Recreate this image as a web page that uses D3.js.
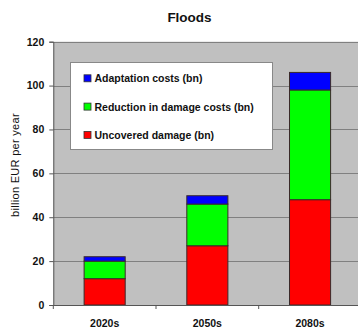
<!DOCTYPE html>
<html><head><meta charset="utf-8">
<script src="https://cdn.jsdelivr.net/npm/d3@7/dist/d3.min.js"></script>
<style>body{margin:0;background:#fff;} svg{display:block;} text{font-family:Arial,"Liberation Sans",sans-serif;}</style>
</head><body>
<script>
const categories = ["2020s", "2050s", "2080s"];
const uncovered = [12, 27, 48];
const reduction = [8, 19, 50];
const adaptation = [2, 3.8, 8];
const seriesNames = ["Uncovered damage (bn)", "Reduction in damage costs (bn)", "Adaptation costs (bn)"];
const seriesColors = ["#ff0000", "#00ff00", "#0000ff"];
const yTicks = [0, 20, 40, 60, 80, 100, 120];

(function () {
const W = 358, H = 327;
const svg = d3.select("body").append("svg").attr("width", W).attr("height", H);

const pL = 53.3, pR = 361.4, pT = 41.7, pB = 305;
const x = d3.scaleBand().domain(categories).range([pL, pR]).paddingInner(0.6).paddingOuter(0.3);
const xb = d3.scalePoint().domain(d3.range(categories.length + 1)).range([pL, pR]);
const y = d3.scaleLinear().domain([0, 120]).range([pB, pT]);

svg.append("rect").attr("x", pL).attr("y", pT).attr("width", pR - pL).attr("height", pB - pT).attr("fill", "#c0c0c0");

svg.append("g").selectAll("line").data(yTicks.filter(d => d > 0)).join("line")
  .attr("x1", pL).attr("x2", pR).attr("y1", d => Math.round(y(d)) + 0.5).attr("y2", d => Math.round(y(d)) + 0.5)
  .attr("stroke", "#808080").attr("stroke-width", 1);

const rows = categories.map((c, i) => ({cat: c, u: uncovered[i], r: reduction[i], a: adaptation[i]}));
const stack = d3.stack().keys(["u", "r", "a"])(rows);

svg.append("g").selectAll("g").data(stack).join("g")
  .attr("fill", (d, i) => seriesColors[i])
  .selectAll("rect").data(d => d).join("rect")
  .attr("x", d => x(d.data.cat)).attr("width", x.bandwidth())
  .attr("y", d => y(d[1])).attr("height", d => y(d[0]) - y(d[1]))
  .attr("stroke", "#3a2a2a").attr("stroke-width", 1);

const yAxis = d3.axisLeft(y).tickValues(yTicks).tickSize(4).tickPadding(5).tickFormat(d3.format("d"));
const gy = svg.append("g").attr("transform", `translate(${pL},0)`).call(yAxis);
gy.select(".domain").attr("stroke", "#555");
gy.selectAll(".tick line").attr("stroke", "#555");
gy.selectAll("text").attr("font-size", "10.5px").attr("font-weight", "bold").attr("fill", "#111");

const xAxisLine = svg.append("g");
xAxisLine.append("line").attr("x1", pL).attr("x2", pR).attr("y1", pB + 0.5).attr("y2", pB + 0.5).attr("stroke", "#555");
xAxisLine.selectAll("line.t").data(xb.domain()).join("line").attr("class", "t")
  .attr("x1", d => xb(d)).attr("x2", d => xb(d)).attr("y1", pB).attr("y2", pB + 4).attr("stroke", "#555");

svg.append("g").selectAll("text").data(categories).join("text")
  .attr("x", d => x(d) + x.bandwidth() / 2).attr("y", 326.5)
  .attr("text-anchor", "middle").attr("font-size", "10.5px").attr("font-weight", "bold").attr("fill", "#111")
  .text(d => d);

svg.append("text").attr("x", 189.5).attr("y", 21.7).attr("text-anchor", "middle")
  .attr("font-size", "13.5px").attr("font-weight", "bold").attr("fill", "#111").text("Floods");

svg.append("text").attr("transform", "translate(19,165) rotate(-90)").attr("text-anchor", "middle")
  .attr("font-size", "11px").attr("fill", "#111").attr("letter-spacing", "0.3px").text("billion EUR per year");

const lg = svg.append("g");
lg.append("rect").attr("x", 70.5).attr("y", 62.5).attr("width", 202).attr("height", 87)
  .attr("fill", "#fff").attr("stroke", "#888");
const legendOrder = [2, 1, 0];
legendOrder.forEach((si, k) => {
  const cy = 78.3 + k * 28.3;
  lg.append("rect").attr("x", 84).attr("y", cy - 3.5).attr("width", 7).attr("height", 7)
    .attr("fill", seriesColors[si]).attr("stroke", "#333").attr("stroke-width", 0.8);
  lg.append("text").attr("x", 94.5).attr("y", cy + 4).attr("font-size", "10.5px").attr("font-weight", "bold")
    .attr("fill", "#111").text(seriesNames[si]);
});
})();
</script>
</body></html>
